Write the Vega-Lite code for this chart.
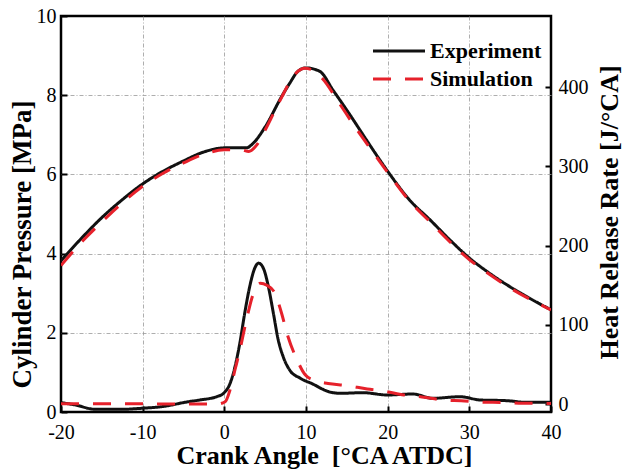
{
  "$schema": "https://vega.github.io/schema/vega-lite/v6.json",
  "width": 490,
  "height": 396,
  "autosize": {"type": "none"},
  "padding": {"left": 61, "top": 16, "right": 72, "bottom": 59},
  "background": "white",
  "config": {
    "font": "Liberation Serif",
    "view": {"stroke": "black", "strokeWidth": 2.5},
    "axis": {
      "labelFont": "Liberation Serif", "labelFontSize": 20, "labelColor": "black",
      "titleFont": "Liberation Serif", "titleFontSize": 26, "titleFontWeight": "bold", "titleColor": "black",
      "domain": false, "tickColor": "black", "tickWidth": 2, "tickSize": -6,
      "gridColor": "#999999", "gridWidth": 0.8, "gridDash": [4, 2, 1, 2],
      "labelFlush": false, "labelOverlap": false,
      "labelExpr": "'' + datum.value"
    },
    "legend": {
      "orient": "none", "legendX": 327, "legendY": 24,
      "labelFont": "Liberation Serif", "labelFontSize": 22, "labelFontWeight": "bold", "labelColor": "black",
      "symbolType": "M-4,0H4", "symbolSize": 169, "symbolStrokeWidth": 3,
      "padding": 0, "labelOffset": 20, "rowPadding": 6
    }
  },
  "datasets": {
    "pressure": [
      {"ca": -20, "value": 3.82, "series": "Experiment"},
      {"ca": -17.3, "value": 4.43, "series": "Experiment"},
      {"ca": -15.2, "value": 4.87, "series": "Experiment"},
      {"ca": -12.5, "value": 5.36, "series": "Experiment"},
      {"ca": -10, "value": 5.76, "series": "Experiment"},
      {"ca": -7.5, "value": 6.08, "series": "Experiment"},
      {"ca": -5, "value": 6.34, "series": "Experiment"},
      {"ca": -2.6, "value": 6.56, "series": "Experiment"},
      {"ca": 0, "value": 6.67, "series": "Experiment"},
      {"ca": 2.7, "value": 6.67, "series": "Experiment"},
      {"ca": 3.5, "value": 6.78, "series": "Experiment"},
      {"ca": 5, "value": 7.2, "series": "Experiment"},
      {"ca": 7, "value": 7.96, "series": "Experiment"},
      {"ca": 8, "value": 8.3, "series": "Experiment"},
      {"ca": 9, "value": 8.6, "series": "Experiment"},
      {"ca": 10, "value": 8.69, "series": "Experiment"},
      {"ca": 11.7, "value": 8.6, "series": "Experiment"},
      {"ca": 13.3, "value": 8.13, "series": "Experiment"},
      {"ca": 15.4, "value": 7.5, "series": "Experiment"},
      {"ca": 17.4, "value": 6.87, "series": "Experiment"},
      {"ca": 20, "value": 6.08, "series": "Experiment"},
      {"ca": 22.7, "value": 5.35, "series": "Experiment"},
      {"ca": 25.2, "value": 4.85, "series": "Experiment"},
      {"ca": 27.6, "value": 4.35, "series": "Experiment"},
      {"ca": 30, "value": 3.89, "series": "Experiment"},
      {"ca": 32.5, "value": 3.5, "series": "Experiment"},
      {"ca": 35, "value": 3.16, "series": "Experiment"},
      {"ca": 37.4, "value": 2.87, "series": "Experiment"},
      {"ca": 40, "value": 2.58, "series": "Experiment"},
      {"ca": -20, "value": 3.7, "series": "Simulation"},
      {"ca": -17.3, "value": 4.33, "series": "Simulation"},
      {"ca": -15, "value": 4.8, "series": "Simulation"},
      {"ca": -12.5, "value": 5.28, "series": "Simulation"},
      {"ca": -10, "value": 5.7, "series": "Simulation"},
      {"ca": -7.5, "value": 6.03, "series": "Simulation"},
      {"ca": -5, "value": 6.29, "series": "Simulation"},
      {"ca": -2.5, "value": 6.51, "series": "Simulation"},
      {"ca": 0, "value": 6.62, "series": "Simulation"},
      {"ca": 2, "value": 6.62, "series": "Simulation"},
      {"ca": 3, "value": 6.58, "series": "Simulation"},
      {"ca": 4, "value": 6.75, "series": "Simulation"},
      {"ca": 5, "value": 7.12, "series": "Simulation"},
      {"ca": 6, "value": 7.53, "series": "Simulation"},
      {"ca": 7, "value": 7.94, "series": "Simulation"},
      {"ca": 8, "value": 8.33, "series": "Simulation"},
      {"ca": 9, "value": 8.6, "series": "Simulation"},
      {"ca": 9.8, "value": 8.68, "series": "Simulation"},
      {"ca": 10.6, "value": 8.65, "series": "Simulation"},
      {"ca": 12, "value": 8.42, "series": "Simulation"},
      {"ca": 14, "value": 7.82, "series": "Simulation"},
      {"ca": 16, "value": 7.2, "series": "Simulation"},
      {"ca": 18, "value": 6.62, "series": "Simulation"},
      {"ca": 20, "value": 6.05, "series": "Simulation"},
      {"ca": 22.7, "value": 5.32, "series": "Simulation"},
      {"ca": 25.2, "value": 4.8, "series": "Simulation"},
      {"ca": 27.6, "value": 4.3, "series": "Simulation"},
      {"ca": 30, "value": 3.85, "series": "Simulation"},
      {"ca": 32.5, "value": 3.47, "series": "Simulation"},
      {"ca": 35, "value": 3.13, "series": "Simulation"},
      {"ca": 37.4, "value": 2.85, "series": "Simulation"},
      {"ca": 40, "value": 2.58, "series": "Simulation"}
    ],
    "hrr": [
      {"ca": -20, "value": 1.8, "series": "Experiment"},
      {"ca": -18.3, "value": -1, "series": "Experiment"},
      {"ca": -15.8, "value": -6.6, "series": "Experiment"},
      {"ca": -12.6, "value": -6.6, "series": "Experiment"},
      {"ca": -10.1, "value": -5.3, "series": "Experiment"},
      {"ca": -7.7, "value": -3.3, "series": "Experiment"},
      {"ca": -4.4, "value": 3, "series": "Experiment"},
      {"ca": -3, "value": 5.2, "series": "Experiment"},
      {"ca": -0.9, "value": 9.5, "series": "Experiment"},
      {"ca": -0.1, "value": 13.6, "series": "Experiment"},
      {"ca": 0.7, "value": 26, "series": "Experiment"},
      {"ca": 1.3, "value": 47, "series": "Experiment"},
      {"ca": 1.9, "value": 77, "series": "Experiment"},
      {"ca": 2.5, "value": 115, "series": "Experiment"},
      {"ca": 3.1, "value": 148, "series": "Experiment"},
      {"ca": 3.7, "value": 171, "series": "Experiment"},
      {"ca": 4.2, "value": 178, "series": "Experiment"},
      {"ca": 4.8, "value": 171, "series": "Experiment"},
      {"ca": 5.4, "value": 148, "series": "Experiment"},
      {"ca": 6.0, "value": 115, "series": "Experiment"},
      {"ca": 6.6, "value": 81, "series": "Experiment"},
      {"ca": 7.2, "value": 60, "series": "Experiment"},
      {"ca": 8.0, "value": 43, "series": "Experiment"},
      {"ca": 9.3, "value": 32.6, "series": "Experiment"},
      {"ca": 10.9, "value": 25, "series": "Experiment"},
      {"ca": 12, "value": 19, "series": "Experiment"},
      {"ca": 13, "value": 15, "series": "Experiment"},
      {"ca": 14.2, "value": 13.6, "series": "Experiment"},
      {"ca": 17, "value": 14.4, "series": "Experiment"},
      {"ca": 19.9, "value": 11.5, "series": "Experiment"},
      {"ca": 23.1, "value": 12.7, "series": "Experiment"},
      {"ca": 25.5, "value": 7.3, "series": "Experiment"},
      {"ca": 28.9, "value": 9.3, "series": "Experiment"},
      {"ca": 31.3, "value": 5.2, "series": "Experiment"},
      {"ca": 34.6, "value": 4.3, "series": "Experiment"},
      {"ca": 37, "value": 2.2, "series": "Experiment"},
      {"ca": 40, "value": 2.2, "series": "Experiment"},
      {"ca": -20, "value": 0.5, "series": "Simulation"},
      {"ca": -10, "value": 0.3, "series": "Simulation"},
      {"ca": -3, "value": 0, "series": "Simulation"},
      {"ca": -0.9, "value": 0, "series": "Simulation"},
      {"ca": 0.1, "value": 3, "series": "Simulation"},
      {"ca": 0.7, "value": 18, "series": "Simulation"},
      {"ca": 1.3, "value": 43, "series": "Simulation"},
      {"ca": 1.9, "value": 68, "series": "Simulation"},
      {"ca": 2.7, "value": 106, "series": "Simulation"},
      {"ca": 3.5, "value": 138, "series": "Simulation"},
      {"ca": 4.4, "value": 152.5, "series": "Simulation"},
      {"ca": 5.2, "value": 150, "series": "Simulation"},
      {"ca": 6.2, "value": 140, "series": "Simulation"},
      {"ca": 7.0, "value": 115, "series": "Simulation"},
      {"ca": 7.8, "value": 85, "series": "Simulation"},
      {"ca": 8.9, "value": 56, "series": "Simulation"},
      {"ca": 9.9, "value": 37, "series": "Simulation"},
      {"ca": 11, "value": 30, "series": "Simulation"},
      {"ca": 12.7, "value": 26, "series": "Simulation"},
      {"ca": 15, "value": 23.5, "series": "Simulation"},
      {"ca": 17.5, "value": 19, "series": "Simulation"},
      {"ca": 19.5, "value": 16.5, "series": "Simulation"},
      {"ca": 22, "value": 11.5, "series": "Simulation"},
      {"ca": 24.2, "value": 9, "series": "Simulation"},
      {"ca": 27, "value": 5, "series": "Simulation"},
      {"ca": 29, "value": 4.2, "series": "Simulation"},
      {"ca": 31.5, "value": 2.5, "series": "Simulation"},
      {"ca": 34, "value": 2, "series": "Simulation"},
      {"ca": 36.5, "value": 1, "series": "Simulation"},
      {"ca": 40, "value": 0.8, "series": "Simulation"}
    ]
  },
  "layer": [
    {
      "data": {"name": "pressure"},
      "mark": {"type": "line", "strokeWidth": 3, "interpolate": "monotone", "clip": true},
      "encoding": {
        "x": {
          "field": "ca", "type": "quantitative",
          "scale": {"domain": [-20, 40], "nice": false},
          "axis": {
            "title": "Crank Angle\u00a0 [°CA ATDC]",
            "values": [-20, -10, 0, 10, 20, 30, 40],
            "labelPadding": 16,
            "titleX": 263, "titleY": 51, "titleBaseline": "alphabetic",
            "gridOpacity": {"condition": {"test": "datum.value <= -20 || datum.value >= 40", "value": 0}, "value": 1}
          }
        },
        "y": {
          "field": "value", "type": "quantitative",
          "scale": {"domain": [0, 10], "nice": false, "zero": false},
          "axis": {
            "title": "Cylinder Pressure [MPa]",
            "orient": "left",
            "values": [0, 2, 4, 6, 8, 10],
            "labelPadding": 11,
            "titleFontSize": 27,
            "titleX": -31, "titleY": 228, "titleBaseline": "alphabetic", "titleAngle": 270,
            "gridOpacity": {"condition": {"test": "datum.value <= 0 || datum.value >= 10", "value": 0}, "value": 1}
          }
        },
        "color": {
          "field": "series", "type": "nominal", "title": null,
          "scale": {"domain": ["Experiment", "Simulation"], "range": ["#111111", "#e6212b"]}
        },
        "strokeDash": {
          "field": "series", "type": "nominal", "title": null,
          "scale": {"domain": ["Experiment", "Simulation"], "range": [[1, 0], [18, 14]]}
        }
      }
    },
    {
      "data": {"name": "hrr"},
      "mark": {"type": "line", "strokeWidth": 3, "interpolate": "monotone", "clip": true},
      "encoding": {
        "x": {"field": "ca", "type": "quantitative"},
        "y": {
          "field": "value", "type": "quantitative",
          "scale": {"domain": [-10, 490], "nice": false, "zero": false},
          "axis": {
            "title": "Heat Release Rate [J/°CA]",
            "orient": "right",
            "values": [0, 100, 200, 300, 400],
            "grid": false,
            "labelPadding": 13,
            "titleX": 66, "titleY": 196, "titleBaseline": "alphabetic", "titleAngle": 270
          }
        },
        "color": {"field": "series", "type": "nominal", "title": null},
        "strokeDash": {"field": "series", "type": "nominal", "title": null}
      }
    }
  ],
  "resolve": {"scale": {"y": "independent"}}
}
